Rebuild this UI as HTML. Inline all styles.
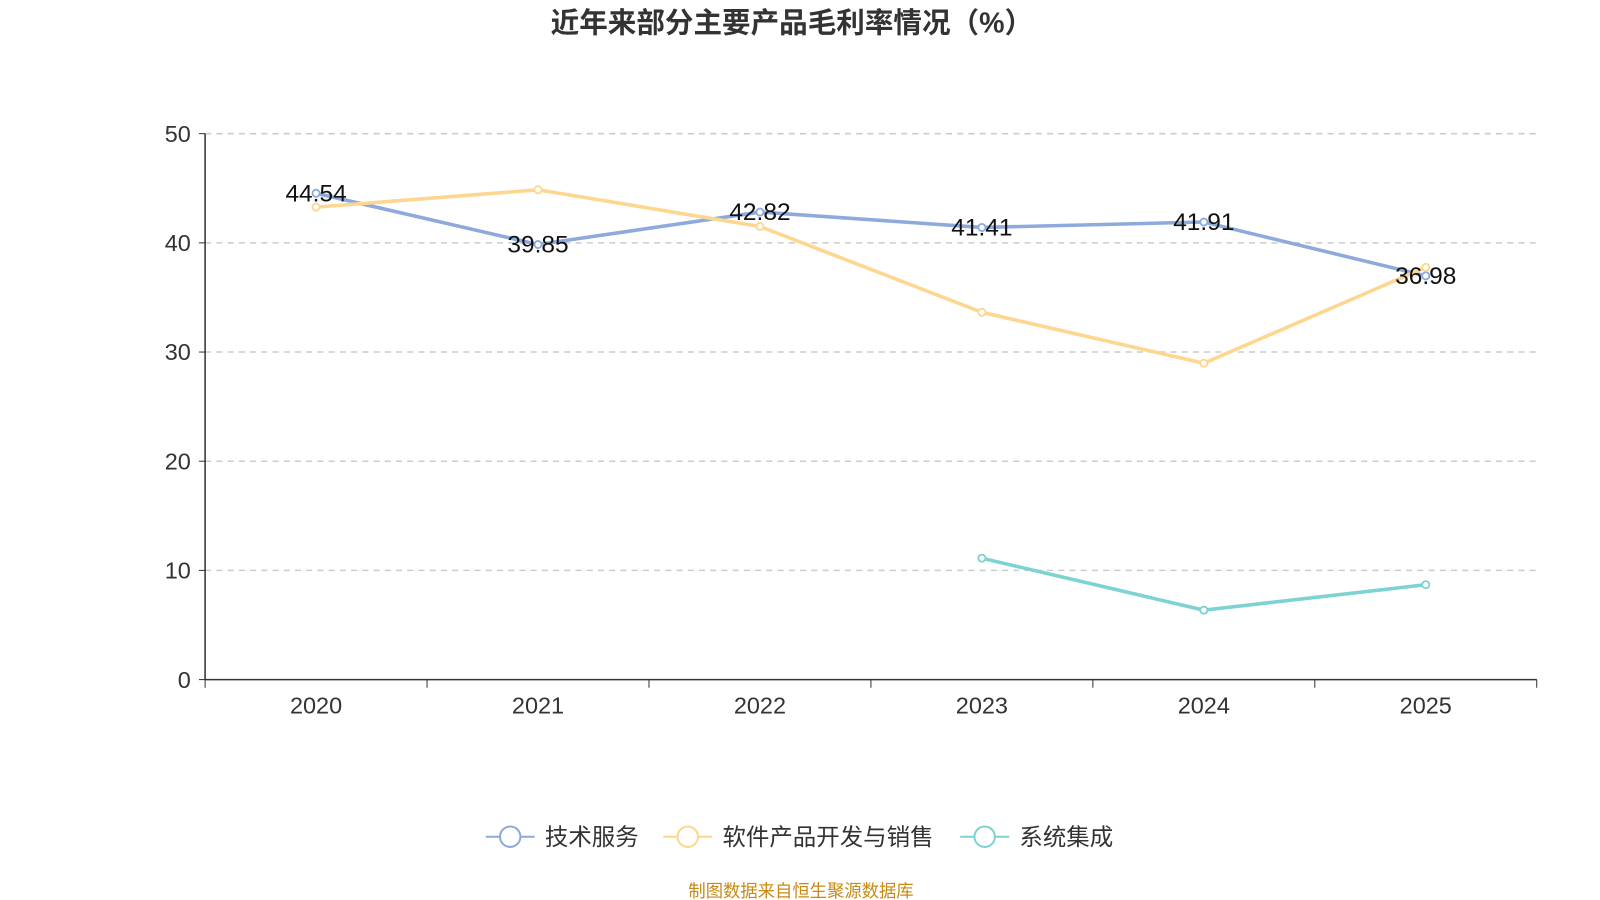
<!DOCTYPE html>
<html><head><meta charset="utf-8"><style>
html,body{margin:0;padding:0;background:#fff;}
svg{display:block;font-family:"Liberation Sans","Noto Sans CJK SC",sans-serif;}
</style></head><body>
<svg id="chart" width="1600" height="900" viewBox="0 0 1568 882">
<text x="776" y="32" text-anchor="middle" font-size="28" font-weight="bold" fill="#333">近年来部分主要产品毛利率情况（%）</text>
<g id="grid"></g><g id="axes"></g><g id="series"></g><g id="legend"></g>
<text x="785" y="879" text-anchor="middle" font-size="17" fill="#c88a14">制图数据来自恒生聚源数据库</text>
</svg>
<script>
const categories=["2020","2021","2022","2023","2024","2025"];
const yTicks=[0,10,20,30,40,50];
const techService=[44.54,39.85,42.82,41.41,41.91,36.98];
const software=[43.27,44.86,41.5,33.64,28.97,37.76];
const sysInteg=[null,null,null,11.12,6.36,8.69];
const seriesNames=["技术服务","软件产品开发与销售","系统集成"];
const colors=["#8eaadc","#fdd68f","#7fd2d2"];
const NS="http://www.w3.org/2000/svg";
const X0=201,X1=1506,Y0=666,Y1=131;
const bw=(X1-X0)/categories.length;
const xs=i=>X0+bw*(i+0.5);
const ys=v=>Y0-(v/50)*(Y0-Y1);
function mk(t,a,p){const e=document.createElementNS(NS,t);for(const k in a)e.setAttribute(k,a[k]);p.appendChild(e);return e;}
const grid=document.getElementById('grid'),axes=document.getElementById('axes'),ser=document.getElementById('series'),leg=document.getElementById('legend');
yTicks.forEach(v=>{
 if(v>0){const l=mk('line',{x1:X0,x2:X1,y1:ys(v),y2:ys(v),stroke:'#ccc','stroke-dasharray':'6,5','stroke-width':1.5},grid);
 
 }
 mk('line',{x1:X0-6,x2:X0,y1:ys(v),y2:ys(v),stroke:'#333'},axes);
 const t=mk('text',{x:X0-14,y:ys(v)+8,'text-anchor':'end','font-size':23,fill:'#333'},axes);t.textContent=v;
 
 
});
mk('line',{x1:X0,x2:X0,y1:Y1,y2:Y0,stroke:'#333','stroke-width':1.5},axes);
mk('line',{x1:X0,x2:X1,y1:Y0,y2:Y0,stroke:'#333','stroke-width':1.5},axes);
for(let i=0;i<=categories.length;i++)mk('line',{x1:X0+bw*i,x2:X0+bw*i,y1:Y0,y2:Y0+8,stroke:'#333'},axes);
categories.forEach((c,i)=>{const t=mk('text',{x:xs(i),y:Y0+33,'text-anchor':'middle','font-size':23,fill:'#333'},axes);t.textContent=c;
 
 });
[techService,software,sysInteg].forEach((data,s)=>{
 let d='';data.forEach((v,i)=>{if(v==null)return;d+=(d?'L':'M')+xs(i)+','+ys(v);});
 const p=mk('path',{d:d,fill:'none',stroke:colors[s],'stroke-width':3.5},ser);
 
 
 data.forEach((v,i)=>{if(v==null)return;
  const c=mk('circle',{cx:xs(i),cy:ys(v),r:3.5,fill:'#fff',stroke:colors[s],'stroke-width':1.8},ser);
  
  });
});
techService.forEach((v,i)=>{const t=mk('text',{x:xs(i),y:ys(v)+8,'text-anchor':'middle','font-size':24,fill:'#111'},ser);t.textContent=v.toFixed(2);
 
 });
const lx=[476,650,941];
seriesNames.forEach((n,s)=>{
 const g=mk('g',{},leg);
 
 
 mk('line',{x1:lx[s],x2:lx[s]+48,y1:820,y2:820,stroke:colors[s],'stroke-width':2},g);
 mk('circle',{cx:lx[s]+24,cy:820,r:10,fill:'#fff',stroke:colors[s],'stroke-width':2},g);
 const t=mk('text',{x:lx[s]+58,y:828,'font-size':23,fill:'#333'},g);t.textContent=n;
});
</script>
</body></html>
